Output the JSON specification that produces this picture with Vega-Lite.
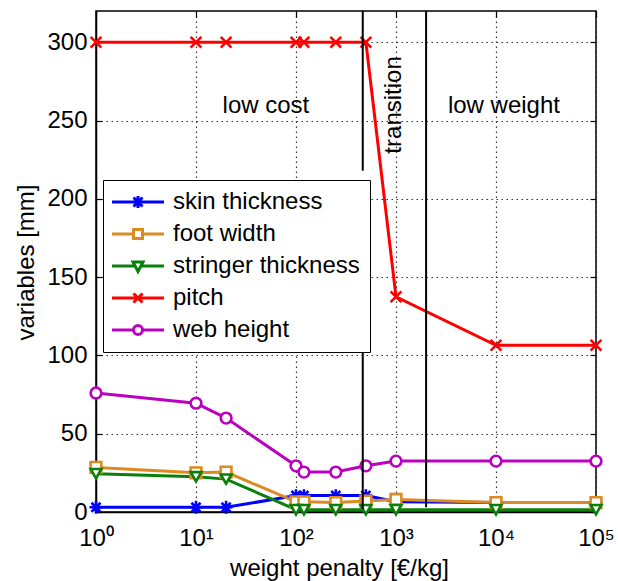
{
  "$schema": "https://vega.github.io/schema/vega-lite/v6.json",
  "width": 500,
  "height": 501,
  "autosize": "none",
  "padding": {"left": 96, "top": 11, "right": 22, "bottom": 69},
  "background": "white",
  "config": {
    "font": "Liberation Sans",
    "view": {"stroke": "black", "strokeWidth": 1.5},
    "axis": {"labelFont": "Liberation Sans", "titleFont": "Liberation Sans"}
  },
  "datasets": {
    "vars": [
      {"penalty": 1, "series": "skin thickness", "value": 3},
      {"penalty": 10, "series": "skin thickness", "value": 3},
      {"penalty": 20, "series": "skin thickness", "value": 3},
      {"penalty": 100, "series": "skin thickness", "value": 10.5},
      {"penalty": 120, "series": "skin thickness", "value": 10.5},
      {"penalty": 250, "series": "skin thickness", "value": 10.5},
      {"penalty": 500, "series": "skin thickness", "value": 10.5},
      {"penalty": 1000, "series": "skin thickness", "value": 6.5},
      {"penalty": 10000, "series": "skin thickness", "value": 6},
      {"penalty": 100000, "series": "skin thickness", "value": 6},
      {"penalty": 1, "series": "foot width", "value": 28.5},
      {"penalty": 10, "series": "foot width", "value": 25},
      {"penalty": 20, "series": "foot width", "value": 25.5},
      {"penalty": 100, "series": "foot width", "value": 6.5},
      {"penalty": 120, "series": "foot width", "value": 6.5},
      {"penalty": 250, "series": "foot width", "value": 6},
      {"penalty": 500, "series": "foot width", "value": 7},
      {"penalty": 1000, "series": "foot width", "value": 8},
      {"penalty": 10000, "series": "foot width", "value": 6},
      {"penalty": 100000, "series": "foot width", "value": 6},
      {"penalty": 1, "series": "stringer thickness", "value": 24.5},
      {"penalty": 10, "series": "stringer thickness", "value": 22.5},
      {"penalty": 20, "series": "stringer thickness", "value": 21},
      {"penalty": 100, "series": "stringer thickness", "value": 1.5},
      {"penalty": 120, "series": "stringer thickness", "value": 1.5},
      {"penalty": 250, "series": "stringer thickness", "value": 1.5},
      {"penalty": 500, "series": "stringer thickness", "value": 1.5},
      {"penalty": 1000, "series": "stringer thickness", "value": 1.5},
      {"penalty": 10000, "series": "stringer thickness", "value": 1.5},
      {"penalty": 100000, "series": "stringer thickness", "value": 1.5},
      {"penalty": 1, "series": "pitch", "value": 300},
      {"penalty": 10, "series": "pitch", "value": 300},
      {"penalty": 20, "series": "pitch", "value": 300},
      {"penalty": 100, "series": "pitch", "value": 300},
      {"penalty": 120, "series": "pitch", "value": 300},
      {"penalty": 250, "series": "pitch", "value": 300},
      {"penalty": 500, "series": "pitch", "value": 300},
      {"penalty": 1000, "series": "pitch", "value": 137.5},
      {"penalty": 10000, "series": "pitch", "value": 106.5},
      {"penalty": 100000, "series": "pitch", "value": 106.5},
      {"penalty": 1, "series": "web height", "value": 76},
      {"penalty": 10, "series": "web height", "value": 69.5},
      {"penalty": 20, "series": "web height", "value": 60},
      {"penalty": 100, "series": "web height", "value": 29.5},
      {"penalty": 120, "series": "web height", "value": 25.5},
      {"penalty": 250, "series": "web height", "value": 25.5},
      {"penalty": 500, "series": "web height", "value": 29.5},
      {"penalty": 1000, "series": "web height", "value": 32.5},
      {"penalty": 10000, "series": "web height", "value": 32.5},
      {"penalty": 100000, "series": "web height", "value": 32.5}
    ],
    "regions": [
      {"penalty": 465, "value": 320, "value_end": 218},
      {"penalty": 465, "value": 104, "value_end": 2},
      {"penalty": 2000, "value": 320, "value_end": 3}
    ],
    "flatlabels": [
      {"penalty": 50, "value": 255, "label": "low cost"},
      {"penalty": 12000, "value": 255, "label": "low weight"}
    ],
    "rotlabels": [
      {"penalty": 1135, "value": 260, "label": "transition"}
    ]
  },
  "layer": [
    {
      "data": {"name": "vars"},
      "mark": {"type": "line", "strokeWidth": 3},
      "encoding": {
        "x": {
          "field": "penalty", "type": "quantitative",
          "scale": {"type": "log", "domain": [1, 100000], "nice": false},
          "axis": {
            "orient": "bottom",
            "values": [1, 10, 100, 1000, 10000, 100000],
            "labelExpr": "'10' + ['⁰','¹','²','³','⁴','⁵'][round(log(datum.value)/LN10)]",
            "labelFontSize": 24, "labelColor": "black", "labelFlush": false,
            "labelBaseline": "top", "labelPadding": 20,
            "tickSize": -6, "tickColor": "black", "tickWidth": 1.2,
            "domainColor": "black", "domainWidth": 1.5,
            "grid": true, "gridColor": "#333333", "gridDash": [1.5, 3.5], "gridWidth": 1.2,
            "title": "weight penalty [€/kg]", "titleFontSize": 24, "titleFontWeight": "normal",
            "titleColor": "black", "titleX": 243, "titleY": 63, "titleBaseline": "alphabetic", "titleAlign": "center"
          }
        },
        "y": {
          "field": "value", "type": "quantitative",
          "scale": {"domain": [0, 320], "nice": false, "zero": false},
          "axis": {
            "orient": "left",
            "values": [0, 50, 100, 150, 200, 250, 300],
            "labelFontSize": 24, "labelColor": "black", "labelFlush": false, "labelPadding": 15,
            "tickSize": -6, "tickColor": "black", "tickWidth": 1.2,
            "domainColor": "black", "domainWidth": 1.5,
            "grid": true, "gridColor": "#333333", "gridDash": [1.5, 3.5], "gridWidth": 1.2,
            "title": "variables [mm]", "titleFontSize": 24, "titleFontWeight": "normal",
            "titleColor": "black", "titleAngle": 270, "titleX": -62.5, "titleY": 251,
            "titleBaseline": "alphabetic", "titleAlign": "center"
          }
        },
        "color": {
          "field": "series", "type": "nominal",
          "scale": {
            "domain": ["skin thickness", "foot width", "stringer thickness", "pitch", "web height"],
            "range": ["#0000ff", "#dc8a22", "#0a800a", "#ff0000", "#bb00c0"]
          },
          "legend": null
        }
      }
    },
    {
      "data": {"name": "vars"},
      "mark": {"type": "point", "filled": false, "fill": "white", "opacity": 1, "strokeWidth": 2.6, "size": 115},
      "encoding": {
        "x": {
          "field": "penalty", "type": "quantitative",
          "scale": {"type": "log", "domain": [1, 100000], "nice": false},
          "axis": {
            "orient": "top", "values": [1, 10, 100, 1000, 10000, 100000],
            "labels": false, "grid": false, "domain": false, "title": null,
            "tickSize": -6, "tickColor": "black", "tickWidth": 1.2
          }
        },
        "y": {
          "field": "value", "type": "quantitative",
          "scale": {"domain": [0, 320], "nice": false, "zero": false},
          "axis": {
            "orient": "right", "values": [0, 50, 100, 150, 200, 250, 300],
            "labels": false, "grid": false, "domain": false, "title": null,
            "tickSize": -6, "tickColor": "black", "tickWidth": 1.2
          }
        },
        "color": {
          "field": "series", "type": "nominal",
          "scale": {
            "domain": ["skin thickness", "foot width", "stringer thickness", "pitch", "web height"],
            "range": ["#0000ff", "#dc8a22", "#0a800a", "#ff0000", "#bb00c0"]
          },
          "legend": null
        },
        "shape": {
          "field": "series", "type": "nominal",
          "scale": {
            "domain": ["skin thickness", "foot width", "stringer thickness", "pitch", "web height"],
            "range": [
              "M0,-1.2L0,1.2M-1.2,0L1.2,0M-0.85,-0.85L0.85,0.85M-0.85,0.85L0.85,-0.85",
              "square",
              "triangle-down",
              "M-1,-1L1,1M-1,1L1,-1",
              "circle"
            ]
          },
          "legend": null
        }
      }
    },
    {
      "data": {"name": "regions"},
      "mark": {"type": "rule", "color": "black", "strokeWidth": 2},
      "encoding": {
        "x": {"field": "penalty", "type": "quantitative", "scale": {"type": "log", "domain": [1, 100000], "nice": false}, "axis": null},
        "y": {"field": "value", "type": "quantitative", "scale": {"domain": [0, 320], "nice": false, "zero": false}, "axis": null},
        "y2": {"field": "value_end"}
      }
    },
    {
      "data": {"name": "flatlabels"},
      "mark": {"type": "text", "fontSize": 24, "font": "Liberation Sans", "align": "center", "baseline": "alphabetic", "color": "black"},
      "encoding": {
        "x": {"field": "penalty", "type": "quantitative", "scale": {"type": "log", "domain": [1, 100000], "nice": false}, "axis": null},
        "y": {"field": "value", "type": "quantitative", "scale": {"domain": [0, 320], "nice": false, "zero": false}, "axis": null},
        "text": {"field": "label"}
      }
    },
    {
      "data": {"name": "rotlabels"},
      "mark": {"type": "text", "fontSize": 24, "font": "Liberation Sans", "align": "center", "baseline": "alphabetic", "angle": 270, "color": "black"},
      "encoding": {
        "x": {"field": "penalty", "type": "quantitative", "scale": {"type": "log", "domain": [1, 100000], "nice": false}, "axis": null},
        "y": {"field": "value", "type": "quantitative", "scale": {"domain": [0, 320], "nice": false, "zero": false}, "axis": null},
        "text": {"field": "label"}
      }
    },
    {
      "data": {"name": "vars"},
      "transform": [{"filter": "false"}],
      "mark": {"type": "point", "filled": false, "opacity": 1, "strokeWidth": 3},
      "encoding": {
        "x": {"field": "penalty", "type": "quantitative", "scale": {"type": "log", "domain": [1, 100000], "nice": false}, "axis": null},
        "y": {"field": "value", "type": "quantitative", "scale": {"domain": [0, 320], "nice": false, "zero": false}, "axis": null},
        "color": {
          "field": "series", "type": "nominal",
          "scale": {
            "domain": ["skin thickness", "foot width", "stringer thickness", "pitch", "web height"],
            "range": ["#0000ff", "#dc8a22", "#0a800a", "#ff0000", "#bb00c0"]
          },
          "legend": {
            "title": null, "orient": "none", "legendX": 7, "legendY": 169, "direction": "vertical",
            "labelFontSize": 24, "labelColor": "black", "labelFont": "Liberation Sans", "labelLimit": 0,
            "symbolSize": 4, "symbolStrokeWidth": 3, "symbolOpacity": 1, "labelOffset": 36, "rowPadding": 8, "padding": 10,
            "strokeColor": "black", "fillColor": "white"
          }
        },
        "shape": {
          "field": "series", "type": "nominal",
          "scale": {
            "domain": ["skin thickness", "foot width", "stringer thickness", "pitch", "web height"],
            "range": [
              "M-13,0L39,0M13,-6L13,6M8.5,-4.5L17.5,4.5M8.5,4.5L17.5,-4.5",
              "M-13,0L8.5,0M17.5,0L39,0M8.5,-4.5L17.5,-4.5L17.5,4.5L8.5,4.5Z",
              "M-13,0L10.1,0M15.9,0L39,0M8,-4L18,-4L13,5.5Z",
              "M-13,0L39,0M8.5,-4.5L17.5,4.5M8.5,4.5L17.5,-4.5",
              "M-13,0L8.5,0M17.5,0L39,0M8.5,0A4.5,4.5,0,1,1,17.5,0A4.5,4.5,0,1,1,8.5,0Z"
            ]
          },
          "legend": {
            "title": null, "orient": "none", "legendX": 7, "legendY": 169, "direction": "vertical",
            "labelFontSize": 24, "labelColor": "black", "labelFont": "Liberation Sans", "labelLimit": 0,
            "symbolSize": 4, "symbolStrokeWidth": 3, "symbolOpacity": 1, "labelOffset": 36, "rowPadding": 8, "padding": 10,
            "strokeColor": "black", "fillColor": "white"
          }
        }
      }
    }
  ],
  "resolve": {
    "scale": {"shape": "independent"},
    "axis": {"x": "independent", "y": "independent"},
    "legend": {"color": "independent", "shape": "independent"}
  }
}
